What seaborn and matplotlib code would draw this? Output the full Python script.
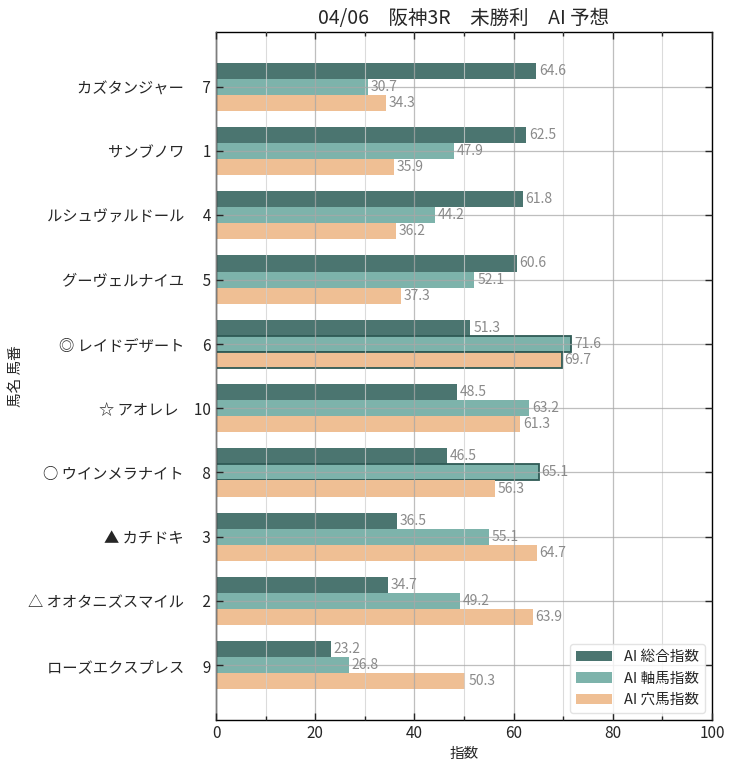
import matplotlib
matplotlib.use("Agg")
import matplotlib.pyplot as plt
import seaborn as sns
import pandas as pd
from matplotlib.ticker import MultipleLocator

names = ["カズタンジャー", "サンブノワ", "ルシュヴァルドール", "グーヴェルナイユ",
         "◎ レイドデザート", "☆ アオレレ", "○ ウインメラナイト", "▲ カチドキ",
         "△ オオタニズスマイル", "ローズエクスプレス"]
numbers = ["7", "1", "4", "5", "6", "10", "8", "3", "2", "9"]
sogo = [64.6, 62.5, 61.8, 60.6, 51.3, 48.5, 46.5, 36.5, 34.7, 23.2]
jiku = [30.7, 47.9, 44.2, 52.1, 71.6, 63.2, 65.1, 55.1, 49.2, 26.8]
ana = [34.3, 35.9, 36.2, 37.3, 69.7, 61.3, 56.3, 64.7, 63.9, 50.3]
series = ["AI 総合指数", "AI 軸馬指数", "AI 穴馬指数"]
colors = ["#4b7570", "#7db3ab", "#efbf94"]
highlight = [(1, 4), (2, 4), (1, 6)]

labels = [f"{n}　{k:>2}" for n, k in zip(names, numbers)]
rows = []
for lab, a, b, c in zip(labels, sogo, jiku, ana):
    for s, v in zip(series, (a, b, c)):
        rows.append({"horse": lab, "series": s, "value": v})
df = pd.DataFrame(rows)

sns.set_style("white")
plt.rcParams['font.family'] = ['Noto Sans CJK JP', 'DejaVu Sans']

fig = plt.figure(figsize=(7.36, 7.7), dpi=100)
ax = fig.add_axes([216/736, 1-720/770, (712-216)/736, (720-32)/770])

sns.barplot(data=df, y="horse", x="value", hue="series", order=labels,
            hue_order=series, palette=colors, width=0.75, orient="h",
            saturation=1, ax=ax, errorbar=None, edgecolor="none", linewidth=0)

for ci, bi in highlight:
    p = ax.containers[ci][bi]
    p.set_edgecolor("#2f5a55")
    p.set_linewidth(1.3)

for cont in ax.containers:
    ax.bar_label(cont, fmt="%.1f", padding=2, color="#8a8a8a", fontsize=10)

ax.set_xlim(0, 100)
ax.set_ylim(9.85, -0.85)
ax.xaxis.set_major_locator(MultipleLocator(20))
ax.xaxis.set_minor_locator(MultipleLocator(10))
ax.set_axisbelow(False)
ax.grid(which="major", axis="both", color="#a8a8a8", linewidth=0.9, alpha=0.75)
ax.grid(which="minor", axis="x", color="#d0d0d0", linewidth=0.8, alpha=0.75)
ax.tick_params(which="both", direction="in", top=True, right=True, left=True, bottom=True)
ax.tick_params(which="major", length=5, width=1, labelsize=11)
ax.tick_params(which="minor", length=3, width=1)
for s in ax.spines.values():
    s.set_color("black")
    s.set_linewidth(1)

ax.set_xlabel("指数", fontsize=10.5)
ax.set_ylabel("馬名 馬番", fontsize=10.5)
ax.set_title("04/06　阪神3R　未勝利　AI 予想", fontsize=14, pad=6)

leg = ax.legend(loc="lower right", fontsize=10.5, frameon=True, handlelength=2.5)
leg.get_frame().set_edgecolor("#dddddd")

fig.savefig("out.png", dpi=100)
